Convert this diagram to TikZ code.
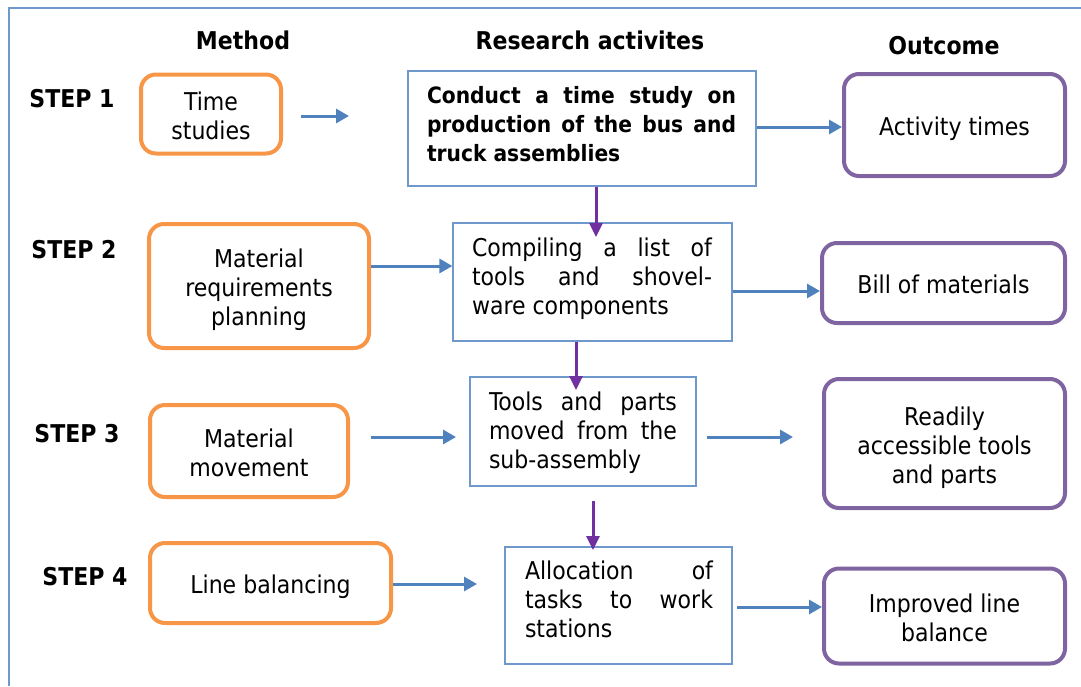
\documentclass[tikz,border=0pt]{standalone}
\usepackage{fontspec}
\setmainfont{DejaVu Sans Condensed}
\usetikzlibrary{arrows.meta}

\definecolor{methodorange}{HTML}{F79646}
\definecolor{outcomepurple}{HTML}{8064A2}
\definecolor{flowblue}{HTML}{4F81BD}
\definecolor{boxblue}{HTML}{6F98CC}
\definecolor{linkpurple}{HTML}{7030A0}

% fixed top/bottom struts so that rounded boxes centre their text evenly
\newcommand{\topstrut}{\rule{0pt}{27.6pt}}
\newcommand{\botstrut}{\rule[-6pt]{0pt}{6pt}}

\tikzset{
  basefont/.style={font=\fontsize{24.5}{29}\selectfont},
  roundbox/.style={line width=4pt, rounded corners=15pt,
    align=center, inner sep=0pt},
  methodbox/.style={roundbox, draw=methodorange},
  outcomebox/.style={roundbox, draw=outcomepurple},
  taskbox/.style={draw=boxblue, line width=1.2pt, inner sep=0pt},
  tasktext/.style={align=left, inner sep=0pt},
  heading/.style={font=\fontsize{24.5}{29}\selectfont\bfseries, inner sep=0pt},
  flow/.style={draw=flowblue, line width=3pt, -{Triangle[length=13pt,width=14pt]}},
  link/.style={draw=linkpurple, line width=3pt, -{Triangle[length=14pt,width=13pt]}},
}

\begin{document}
\begin{tikzpicture}[x=1pt, y=-1pt, basefont]
\useasboundingbox (0,0) rectangle (1081,686);

% frame
\draw[boxblue, line width=1.5pt] (9,686) -- (9,8) -- (1081,8);

% column headings
\node[heading] (hmethod) at (243,40) {Method};
\node[heading] (hresearch) at (590,40) {Research activites};
\node[heading] (houtcome) at (944,46) {Outcome};

% step labels
\node[heading] (s1) at (72,99) {STEP 1};
\node[heading] (s2) at (74,250) {STEP 2};
\node[heading] (s3) at (77,434) {STEP 3};
\node[heading] (s4) at (85,577) {STEP 4};

% methods
\node[methodbox, minimum width=140pt, minimum height=79pt] (m1) at (211,114) {\topstrut Time\\studies\botstrut};
\node[methodbox, minimum width=220pt, minimum height=124pt] (m2) at (259,286) {\topstrut Material\\requirements\\planning\botstrut};
\node[methodbox, minimum width=198pt, minimum height=92pt] (m3) at (249,451) {\topstrut Material\\movement\botstrut};
\node[methodbox, minimum width=241pt, minimum height=80pt] (m4) at (270.5,583) {\topstrut Line balancing\botstrut};

% research activities
\node[taskbox, minimum width=348pt, minimum height=115pt] (r1) at (582,128.5) {};
\node[taskbox, minimum width=279pt, minimum height=118pt] (r2) at (592.5,282) {};
\node[taskbox, minimum width=226pt, minimum height=109pt] (r3) at (583,431.5) {};
\node[taskbox, minimum width=227pt, minimum height=117pt] (r4) at (618.5,605.5) {};

\node[tasktext, font=\fontsize{22.5}{29}\selectfont\bfseries] (r1t) at (581.5,126.5)
  {\makebox[309pt][s]{\strut Conduct a time study on}\\
   \makebox[309pt][s]{production of the bus and}\\
   truck assemblies\strut};
\node[tasktext] (r2t) at (592,279.5)
  {\makebox[240pt][s]{\strut Compiling a list of}\\
   \makebox[240pt][s]{tools and shovel-}\\
   ware components\strut};
\node[tasktext] (r3t) at (583,434)
  {\makebox[188pt][s]{\strut Tools and parts}\\
   \makebox[188pt][s]{moved from the}\\
   sub-assembly\strut};
\node[tasktext] (r4t) at (619,603)
  {\makebox[188pt][s]{\strut Allocation of}\\
   \makebox[188pt][s]{tasks to work}\\
   stations\strut};

% outcomes
\node[outcomebox, minimum width=221pt, minimum height=102pt] (o1) at (954.5,125) {\topstrut Activity times\botstrut};
\node[outcomebox, minimum width=243pt, minimum height=80pt] (o2) at (943.5,283) {\topstrut Bill of materials\botstrut};
\node[outcomebox, minimum width=241pt, minimum height=129pt] (o3) at (944.5,443.5) {\topstrut Readily\\accessible tools\\and parts\botstrut};
\node[outcomebox, minimum width=241pt, minimum height=95pt] (o4) at (944.5,616) {\topstrut Improved line\\balance\botstrut};

% free arrow ends
\coordinate (a1s) at (301,116);
\coordinate (a1e) at (349,116);
\coordinate (a5s) at (371,437);
\coordinate (a5e) at (456,437);
\coordinate (a6s) at (707,437);
\coordinate (a6e) at (793,437);
\coordinate (a7e) at (477,584);
\coordinate (a8s) at (737,607);
\coordinate (p1e) at (596,237);
\coordinate (p2e) at (576,390);
\coordinate (p3s) at (593,501);
\coordinate (p3e) at (593,550);

% horizontal flow arrows
\draw[flow] (a1s) -- (a1e);
\draw[flow] (r1.east |- 0,127) -- (o1.west |- 0,127);
\draw[flow] (m2.east |- 0,266) -- (r2.west |- 0,266);
\draw[flow] (r2.east |- 0,291) -- (o2.west |- 0,291);
\draw[flow] (a5s) -- (a5e);
\draw[flow] (a6s) -- (a6e);
\draw[flow] (m4.east |- a7e) -- (a7e);
\draw[flow] (a8s) -- (o4.west |- a8s);

% vertical links between activities
\draw[link] (r1.south -| p1e) -- (p1e);
\draw[link] (r2.south -| p2e) -- (p2e);
\draw[link] (p3s) -- (p3e);
\end{tikzpicture}
\end{document}
